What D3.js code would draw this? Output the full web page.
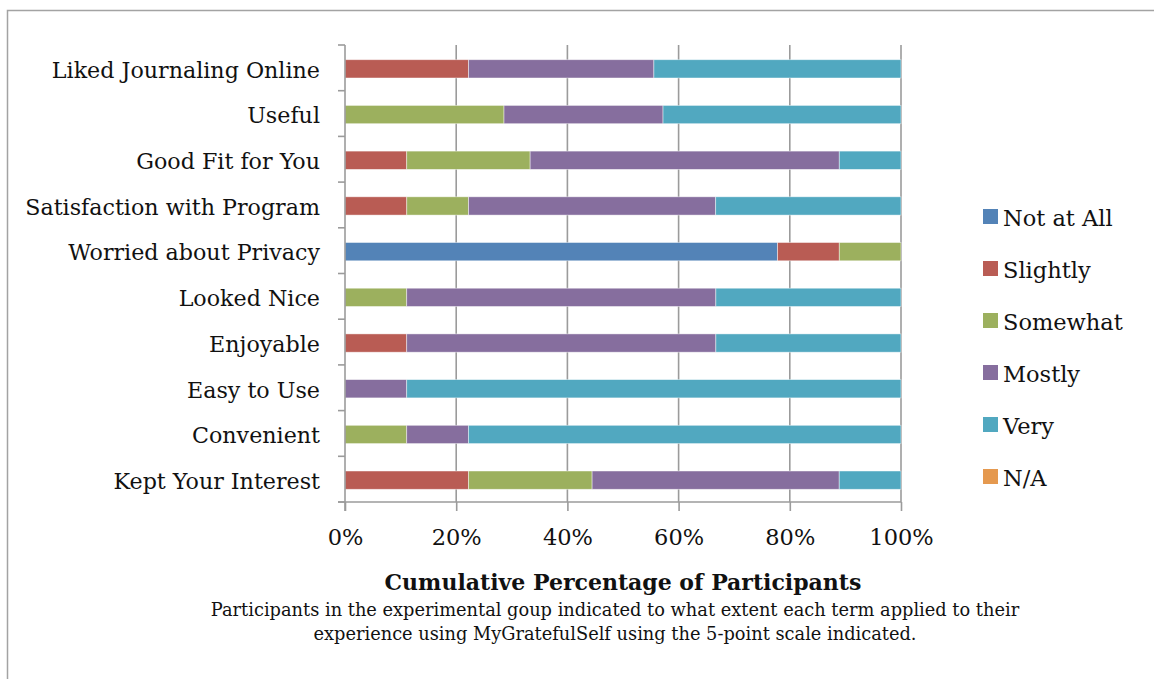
<!DOCTYPE html>
<html>
<head>
<meta charset="utf-8">
<script src="https://cdn.jsdelivr.net/npm/d3@7"></script>
<style>
  html, body { margin: 0; padding: 0; background: #fff; }
  svg { display: block; }
  text { font-family: "DejaVu Serif", "Liberation Serif", serif; fill: #111; }
</style>
</head>
<body>
<svg id="chart" width="1154" height="679"></svg>
<script>
// Rating categories, listed top to bottom
const categories = [
  "Liked Journaling Online",
  "Useful",
  "Good Fit for You",
  "Satisfaction with Program",
  "Worried about Privacy",
  "Looked Nice",
  "Enjoyable",
  "Easy to Use",
  "Convenient",
  "Kept Your Interest"
];

const seriesNames = ["Not at All", "Slightly", "Somewhat", "Mostly", "Very", "N/A"];
const seriesColors = ["#5383b7", "#b95c54", "#9cb05e", "#866e9e", "#51a8c0", "#e5994f"];

// Percentage of participants per category for each response level
const notAtAll = [0, 0, 0, 0, 77.8, 0, 0, 0, 0, 0];
const slightly = [22.2, 0, 11.1, 11.1, 11.1, 0, 11.1, 0, 0, 22.2];
const somewhat = [0, 28.6, 22.2, 11.1, 11.1, 11.1, 0, 0, 11.1, 22.2];
const mostly   = [33.3, 28.6, 55.6, 44.4, 0, 55.6, 55.6, 11.1, 11.1, 44.4];
const very     = [44.4, 42.8, 11.1, 33.3, 0, 33.3, 33.3, 88.9, 77.8, 11.1];
const na       = [0, 0, 0, 0, 0, 0, 0, 0, 0, 0];

const xTickLabels = ["0%", "20%", "40%", "60%", "80%", "100%"];

const seriesValues = [notAtAll, slightly, somewhat, mostly, very, na];

// Build a row-per-category table for d3.stack
const table = categories.map((c, i) => {
  const row = { category: c };
  seriesNames.forEach((s, j) => { row[s] = seriesValues[j][i]; });
  return row;
});

const stacked = d3.stack()
  .keys(seriesNames)
  .offset(d3.stackOffsetExpand)(table);

const svg = d3.select("#chart");
const FONT = "DejaVu Serif, Liberation Serif, serif";
const LABEL_SIZE = 22.2;

// Outer frame
svg.append("rect")
  .attr("x", 7.5).attr("y", 10.5)
  .attr("width", 1160).attr("height", 700)
  .attr("fill", "none")
  .attr("stroke", "#a3a3a3")
  .attr("stroke-width", 1.5);

const plot = { left: 345, right: 901, top: 45, bottom: 502 };

const x = d3.scaleLinear().domain([0, 1]).range([plot.left, plot.right]);
const y = d3.scaleBand().domain(categories).range([plot.top, plot.bottom]).padding(0);
const barH = y.bandwidth() * 0.4;

const color = d3.scaleOrdinal().domain(seriesNames).range(seriesColors);

// Vertical gridlines
const ticks = [0, 0.2, 0.4, 0.6, 0.8, 1];
svg.append("g")
  .selectAll("line")
  .data(ticks.slice(1))
  .join("line")
  .attr("x1", d => x(d)).attr("x2", d => x(d))
  .attr("y1", plot.top).attr("y2", plot.bottom)
  .attr("stroke", "#9b9b9b")
  .attr("stroke-width", 1.6);

// Stacked bars
svg.append("g")
  .selectAll("g")
  .data(stacked)
  .join("g")
  .attr("fill", d => color(d.key))
  .selectAll("rect")
  .data(d => d.filter(p => p[1] - p[0] > 0))
  .join("rect")
  .attr("x", d => x(d[0]))
  .attr("width", d => x(d[1]) - x(d[0]))
  .attr("y", d => y(d.data.category) + (y.bandwidth() - barH) / 2 + 1)
  .attr("height", barH)
  .attr("stroke", "rgba(255,255,255,0.55)")
  .attr("stroke-width", 0.8);

// X axis
const xAxis = d3.axisBottom(x)
  .tickValues(ticks)
  .tickFormat((d, i) => xTickLabels[i])
  .tickSize(9)
  .tickSizeOuter(0)
  .tickPadding(18);

const gx = svg.append("g")
  .attr("transform", `translate(0,${plot.bottom})`)
  .call(xAxis);
gx.select(".domain").attr("stroke", "#9b9b9b").attr("stroke-width", 1.6)
  .attr("d", `M${plot.left - 7},0H${plot.right}`);
gx.selectAll(".tick line").attr("stroke", "#9b9b9b").attr("stroke-width", 1.6);
gx.selectAll(".tick text")
  .attr("font-family", FONT)
  .attr("font-size", 22.5)
  .attr("fill", "#111");

// Y axis: tick marks sit on the band boundaries
const gy = svg.append("g");
gy.append("line")
  .attr("x1", plot.left).attr("x2", plot.left)
  .attr("y1", plot.top).attr("y2", plot.bottom + 9)
  .attr("stroke", "#9b9b9b").attr("stroke-width", 1.6);
const bounds = categories.map(c => y(c)).concat([plot.bottom]);
gy.selectAll("line.tk")
  .data(bounds)
  .join("line")
  .attr("class", "tk")
  .attr("x1", plot.left - 7).attr("x2", plot.left)
  .attr("y1", d => d).attr("y2", d => d)
  .attr("stroke", "#9b9b9b").attr("stroke-width", 1.6);

gy.selectAll("text")
  .data(categories)
  .join("text")
  .attr("x", 320)
  .attr("y", d => y(d) + y.bandwidth() / 2 + 2)
  .attr("dy", "0.35em")
  .attr("text-anchor", "end")
  .attr("font-size", LABEL_SIZE)
  .text(d => d);

// Legend
const legend = svg.append("g").attr("transform", "translate(983,209)");
const item = legend.selectAll("g")
  .data(seriesNames)
  .join("g")
  .attr("transform", (d, i) => `translate(0,${i * 52})`);
item.append("rect")
  .attr("width", 15).attr("height", 15)
  .attr("fill", d => color(d));
item.append("text")
  .attr("x", 20).attr("y", 9)
  .attr("dy", "0.35em")
  .attr("font-size", 22.5)
  .text(d => d);

// Axis title and caption
const cx = (plot.left + plot.right) / 2;
svg.append("text")
  .attr("x", cx).attr("y", 590)
  .attr("text-anchor", "middle")
  .attr("font-size", 22)
  .attr("font-weight", "bold")
  .text("Cumulative Percentage of Participants");

svg.append("text")
  .attr("x", 615).attr("y", 616)
  .attr("text-anchor", "middle")
  .attr("font-size", 17.8)
  .text("Participants in the experimental goup indicated to what extent each term applied to their");
svg.append("text")
  .attr("x", 615).attr("y", 640)
  .attr("text-anchor", "middle")
  .attr("font-size", 17.8)
  .text("experience using MyGratefulSelf using the 5-point scale indicated.");
</script>
</body>
</html>
